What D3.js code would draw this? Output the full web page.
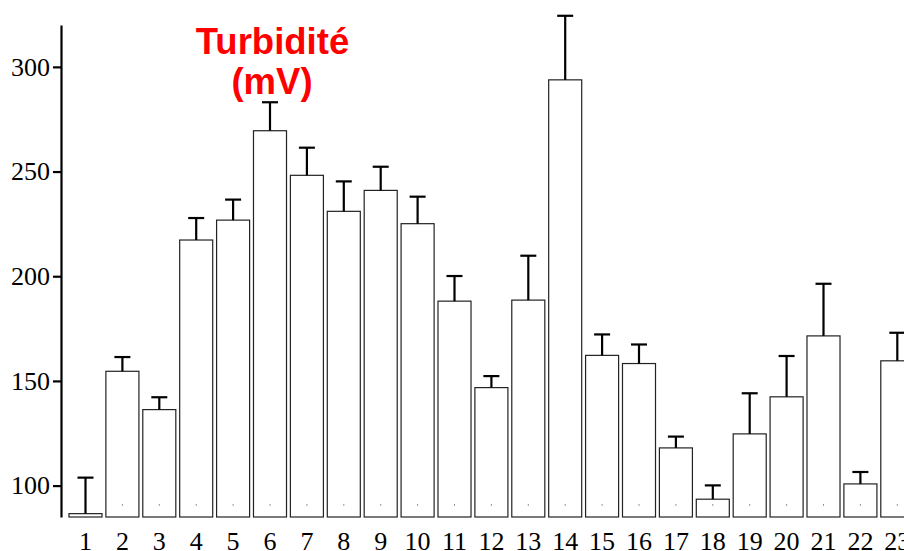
<!DOCTYPE html>
<html>
<head>
<meta charset="utf-8">
<script src="https://cdn.jsdelivr.net/npm/d3@7"></script>
<style>
  body { margin: 0; background: #fff; }
  svg { display: block; }
</style>
</head>
<body>
<script>
// turbidity per sampling point, mean + standard deviation
var stations = ["1","2","3","4","5","6","7","8","9","10","11","12","13","14","15","16","17","18","19","20","21","22","23"];
var means = [86.6, 154.6, 136.3, 217.3, 226.8, 269.5, 248.2, 231.0, 241.0, 225.1, 188.1, 146.8, 188.6, 293.8, 162.2, 158.3, 118.0, 93.5, 124.7, 142.4, 171.5, 100.8, 159.6];
var errors = [17.2, 6.8, 5.9, 10.5, 9.8, 13.6, 13.2, 14.3, 11.3, 12.9, 12.0, 5.5, 21.2, 30.6, 10.0, 9.1, 5.4, 6.6, 19.4, 19.5, 24.9, 5.7, 13.4];
var yTicks = [100, 150, 200, 250, 300];
var markerValue = 91;

var width = 904, height = 551;

var svg = d3.select('body').append('svg')
   .attr("width", width)
   .attr("height", height);

var x = d3.scaleBand()
   .domain(stations)
   .range([67.05, 915.75])
   .paddingInner(0.105)
   .paddingOuter(0.0525);

var y = d3.scaleLinear()
   .domain([85, 320])
   .range([517, 25]);

var data = stations.map(function(s, i) {
  return {name: s, mean: means[i], err: errors[i]};
});

// bars
svg.selectAll('rect.bar')
   .data(data)
   .enter()
   .append('rect')
   .attr('class', 'bar')
   .attr('x', function(d) { return x(d.name); })
   .attr('y', function(d) { return y(d.mean); })
   .attr('width', x.bandwidth())
   .attr('height', function(d) { return y(85) - y(d.mean); })
   .attr('fill', '#fff')
   .attr('stroke', '#222')
   .attr('stroke-width', 1.2);

// little dots near the base of each bar
svg.selectAll('rect.dot')
   .data(data.filter(function(d) { return d.mean > markerValue + 2; }))
   .enter()
   .append('rect')
   .attr('class', 'dot')
   .attr('x', function(d) { return x(d.name) + x.bandwidth() / 2 - 0.5; })
   .attr('y', y(markerValue))
   .attr('width', 1)
   .attr('height', 1)
   .attr('fill', '#333');

// error bars (upper only)
var eb = svg.selectAll('g.err')
   .data(data)
   .enter()
   .append('g')
   .attr('class', 'err')
   .attr('stroke', '#000')
   .attr('stroke-width', 2.2);

eb.append('line')
   .attr('x1', function(d) { return x(d.name) + x.bandwidth() / 2; })
   .attr('x2', function(d) { return x(d.name) + x.bandwidth() / 2; })
   .attr('y1', function(d) { return y(d.mean); })
   .attr('y2', function(d) { return y(d.mean + d.err); });

eb.append('line')
   .attr('x1', function(d) { return x(d.name) + x.bandwidth() / 2 - 8; })
   .attr('x2', function(d) { return x(d.name) + x.bandwidth() / 2 + 8; })
   .attr('y1', function(d) { return y(d.mean + d.err); })
   .attr('y2', function(d) { return y(d.mean + d.err); });

// y axis
var yAxis = svg.append('g')
   .attr('transform', 'translate(61,0)')
   .call(d3.axisLeft(y).tickValues(yTicks).tickSize(8).tickSizeOuter(0).tickPadding(3));

yAxis.select('.domain').attr('stroke', '#000').attr('stroke-width', 2.2);
yAxis.selectAll('.tick line').attr('stroke', '#000').attr('stroke-width', 2.2);
yAxis.selectAll('.tick text')
   .attr('fill', '#000')
   .style('font-family', '"Liberation Serif", "Times New Roman", serif')
   .style('font-size', '26px');

// category labels
svg.selectAll('text.cat')
   .data(data)
   .enter()
   .append('text')
   .attr('class', 'cat')
   .attr('x', function(d) { return x(d.name) + x.bandwidth() / 2; })
   .attr('y', 550)
   .attr('text-anchor', 'middle')
   .style('font-family', '"Liberation Serif", "Times New Roman", serif')
   .style('font-size', '26px')
   .attr('fill', '#000')
   .text(function(d) { return d.name; });

// title
var title = svg.append('text')
   .attr('x', 272.5)
   .attr('y', 53.5)
   .attr('text-anchor', 'middle')
   .style('font-family', '"Liberation Sans", Arial, sans-serif')
   .style('font-weight', 'bold')
   .style('font-size', '36.5px')
   .attr('fill', '#ff0000');

title.append('tspan').attr('x', 272.5).attr('dy', 0).text('Turbidité');
title.append('tspan').attr('x', 272).attr('dy', 40.5).text('(mV)');
</script>
</body>
</html>
